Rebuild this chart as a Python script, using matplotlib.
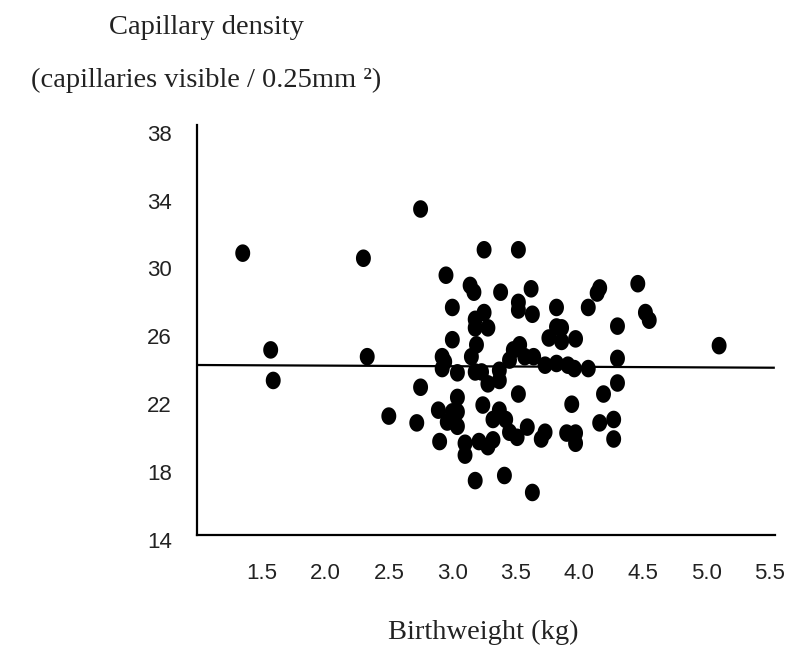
import numpy as np
import matplotlib
matplotlib.use("Agg")
import matplotlib.pyplot as plt
from matplotlib.path import Path

# Birthweight (kg) vs capillary density
birthweight = [
    1.35, 1.57, 1.59, 2.30, 2.33, 2.50, 2.75, 2.75, 2.72, 2.92,
    2.94, 2.92, 2.95, 3.00, 3.00, 3.14, 3.17, 3.25, 3.52, 3.38,
    3.62, 3.25, 3.18, 3.18, 3.28, 3.19, 3.52, 3.52, 3.63, 3.82,
    4.07, 4.14, 4.16, 4.46, 4.52, 4.55, 4.30, 3.82, 3.86, 3.76,
    3.86, 3.97, 3.48, 3.53, 3.15, 3.57, 3.64, 3.45, 4.30, 3.73,
    3.82, 3.91, 3.96, 4.07, 3.04, 3.18, 3.23, 3.37, 3.37, 3.28,
    3.52, 4.30, 4.19, 3.94, 3.04, 2.89, 3.00, 3.04, 2.96, 3.04,
    3.24, 3.37, 3.42, 3.32, 3.45, 3.51, 3.59, 3.73, 3.70, 3.90,
    3.97, 3.97, 4.16, 4.27, 4.27, 2.90, 3.10, 3.10, 3.21, 3.32,
    3.28, 3.18, 3.41, 3.63, 5.10,
]
cap_density = [
    30.9, 25.2, 23.4, 30.6, 24.8, 21.3, 33.5, 23.0, 20.9, 24.8,
    24.5, 24.1, 29.6, 27.7, 25.8, 29.0, 28.6, 31.1, 31.1, 28.6,
    28.8, 27.4, 27.0, 26.5, 26.5, 25.5, 28.0, 27.55, 27.3, 27.7,
    27.7, 28.55, 28.85, 29.1, 27.4, 26.95, 26.6, 26.55, 26.5, 25.9,
    25.7, 25.85, 25.2, 25.5, 24.8, 24.8, 24.8, 24.6, 24.7, 24.3,
    24.4, 24.3, 24.1, 24.1, 23.85, 23.9, 23.9, 24.0, 23.4, 23.2,
    22.6, 23.25, 22.6, 22.0, 22.4, 21.65, 21.55, 21.55, 20.95, 20.7,
    21.95, 21.65, 21.1, 21.1, 20.35, 20.05, 20.65, 20.35, 19.95, 20.3,
    20.3, 19.7, 20.9, 21.1, 19.95, 19.8, 19.7, 19.0, 19.8, 19.9,
    19.5, 17.5, 17.8, 16.8, 25.45,
]

# fitted line end points
fit_x = [0.99, 5.53]
fit_y = [24.31, 24.15]

xticks = [1.5, 2.0, 2.5, 3.0, 3.5, 4.0, 4.5, 5.0, 5.5]
yticks = [14, 18, 22, 26, 30, 34, 38]

fig = plt.figure(figsize=(7.96, 6.49), dpi=100)
ax = fig.add_axes([197 / 796, 1 - 540 / 649, (775 - 197) / 796, (540 - 125) / 649])

# slightly tall elliptical dots like the scan
t = np.linspace(0, 2 * np.pi, 60)
dot = Path(np.column_stack([0.85 * np.cos(t), np.sin(t)]))

ax.scatter(birthweight, cap_density, marker=dot, s=160, color="black",
           edgecolors="none", zorder=3)
ax.plot(fit_x, fit_y, color="black", lw=1.6, zorder=2)

ax.set_xlim(0.99, 5.54)
ax.set_ylim(14, 38.45)
ax.spines["top"].set_visible(False)
ax.spines["right"].set_visible(False)
ax.spines["bottom"].set_position(("data", 14.29))
ax.spines["left"].set_bounds(14.29, 38.45)
for s in ["bottom", "left"]:
    ax.spines[s].set_linewidth(1.6)

ax.set_xticks(xticks)
ax.set_xticklabels([f"{v:.1f}" for v in xticks])
ax.set_yticks(yticks)
ax.set_yticklabels([str(v) for v in yticks])
ax.tick_params(axis="both", length=0, labelsize=16, colors="#222222")
ax.tick_params(axis="x", pad=20)
ax.tick_params(axis="y", pad=18)
for lab in ax.get_xticklabels() + ax.get_yticklabels():
    lab.set_fontfamily("Liberation Sans")

fig.text(206 / 796, 1 - 27 / 649, "Capillary density", ha="center", va="center",
         fontsize=20.5, family="Liberation Serif", color="#222222")
fig.text(206 / 796, 1 - 80 / 649, "(capillaries visible / 0.25mm ²)", ha="center",
         va="center", fontsize=20.5, family="Liberation Serif", color="#222222")
fig.text(483 / 796, 1 - 632 / 649, "Birthweight (kg)", ha="center", va="center",
         fontsize=20.5, family="Liberation Serif", color="#222222")

fig.savefig("out.png", dpi=100)
